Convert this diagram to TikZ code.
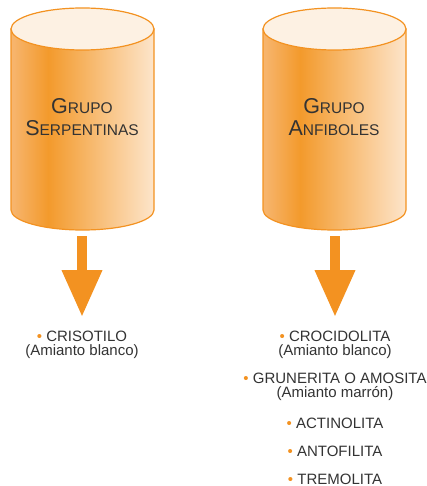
\documentclass[tikz,border=0pt]{standalone}
\usepackage{fontspec}
\setmainfont{Liberation Sans}
\usetikzlibrary{arrows.meta}

\definecolor{orng}{HTML}{F39221}
\definecolor{orngA}{HTML}{F7B670}
\definecolor{orngB}{HTML}{F39A2C}
\definecolor{orngC}{HTML}{FDE5CB}
\definecolor{capfill}{HTML}{FDF1E3}
\definecolor{txt}{HTML}{333333}
\pgfdeclarehorizontalshading{drum}{100bp}{color(0bp)=(orngA); color(25bp)=(orngA); color(38bp)=(orngB); color(75bp)=(orngC); color(100bp)=(orngC)}

\tikzset{
  drumbody/.style={draw=orng, line width=1.2pt, shading=drum},
  drumtop/.style={draw=orng, line width=1.2pt, fill=capfill},
  title/.style={text=txt, align=center, font=\fontsize{15.5}{22}\selectfont},
  item/.style={text=txt, align=center, font=\fontsize{15}{14.5}\selectfont},
  fatarrow/.style={orng, line width=10pt, -{Triangle[width=38pt, length=47pt]}}
}
\newcommand{\itemdot}{\textcolor{orng}{•}\ }

\begin{document}
\begin{tikzpicture}[x=1pt, y=-1pt]
    \useasboundingbox (0,0) rectangle (427,486);

    % cylinders
    \draw[drumbody] (11,29) -- (11,210) arc[start angle=180, end angle=0, x radius=71.5, y radius=20] -- (154,29) -- cycle;
    \draw[drumtop] (82.5,29) ellipse[x radius=71.5, y radius=21];
    \draw[drumbody] (263,29) -- (263,210) arc[start angle=180, end angle=0, x radius=71.5, y radius=20] -- (406,29) -- cycle;
    \draw[drumtop] (334.5,29) ellipse[x radius=71.5, y radius=21];

    \node[title] (serp) at (82,117) {{\fontsize{21.5}{22}\selectfont G}RUPO\\{\fontsize{21.5}{22}\selectfont S}ERPENTINAS};
    \node[title] (anfi) at (334,117) {{\fontsize{21.5}{22}\selectfont G}RUPO\\{\fontsize{21.5}{22}\selectfont A}NFIBOLES};

    % lists
    \node[item] (cris) at (82,345) {\itemdot CRISOTILO\\(Amianto blanco)};
    \node[item] (croc) at (335,345) {\itemdot CROCIDOLITA\\(Amianto blanco)};
    \node[item] (grun) at (335,387) {\itemdot GRUNERITA O AMOSITA\\(Amianto marrón)};
    \node[item] (acti) at (335,423) {\itemdot ACTINOLITA};
    \node[item] (anto) at (335,451) {\itemdot ANTOFILITA};
    \node[item] (trem) at (335,479) {\itemdot TREMOLITA};

    \coordinate (serpout) at (82,236);
    \coordinate (serpin) at (82,317);
    \coordinate (anfiout) at (335,236);
    \coordinate (anfiin) at (335,317);
    \draw[fatarrow] (serpout) -- (serpin);
    \draw[fatarrow] (anfiout) -- (anfiin);
\end{tikzpicture}
\end{document}
